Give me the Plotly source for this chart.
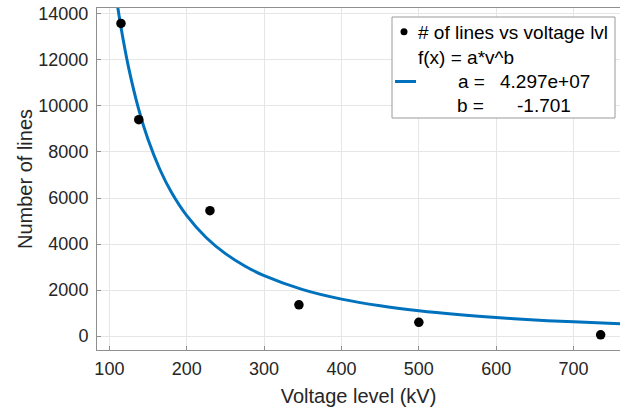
import plotly.graph_objects as go

# ---- data ----
voltage_kv = [115, 138, 230, 345, 500, 735]
num_lines = [13580, 9400, 5450, 1360, 600, 60]

# fitted curve f(x) = a*v^b
fit_x = [108, 115, 125, 138, 150, 165, 180, 200, 225, 250, 275, 300, 350,
         400, 450, 500, 550, 600, 650, 700, 760]
fit_y = [14924, 13412, 11638, 9836, 8535, 7259, 6260, 5233, 4286, 3583, 3047,
         2627, 2022, 1610, 1318, 1102, 937, 808, 705, 622, 541]

x_ticks = [100, 200, 300, 400, 500, 600, 700]
y_ticks = [0, 2000, 4000, 6000, 8000, 10000, 12000, 14000]
y_tick_text = ["0", "2000", "4000", "6000", "8000", "10000", "12000", "14000"]

legend_series = "# of lines vs voltage lvl"
legend_fit = "f(x) = a*v^b"
param_a_label, param_a_value = "a =", "4.297e+07"
param_b_label, param_b_value = "b =", "-1.701"

# ---- layout geometry (pixels) ----
W, H = 620, 409
ML, MR, MT, MB = 97, 0, 8, 59
PW, PH = W - ML - MR, H - MT - MB

def px(X):
    return (X - ML) / PW

def py(Y):
    return (H - MB - Y) / PH

FONT = "Liberation Sans, Arial, Helvetica, sans-serif"
BLUE = "#0072BD"
TXT = "#262626"

fig = go.Figure()
fig.add_trace(go.Scatter(x=fit_x, y=fit_y, mode="lines", line=dict(color=BLUE, width=3, shape="spline"),
                         showlegend=False, hoverinfo="skip"))
fig.add_trace(go.Scatter(x=voltage_kv, y=num_lines, mode="markers",
                         marker=dict(color="black", size=9.5), showlegend=False))

axis_common = dict(showgrid=True, gridcolor="#e6e6e6", gridwidth=1, zeroline=False,
                   showline=True, linecolor="#8f8f8f", linewidth=1,
                   ticks="inside", ticklen=4, tickcolor="#8f8f8f",
                   tickfont=dict(family=FONT, size=18, color=TXT))

fig.update_xaxes(range=[84, 760], tickvals=x_ticks, mirror=True,
                 title=dict(text="Voltage level (kV)", font=dict(family=FONT, size=20, color=TXT), standoff=11),
                 ticklabelstandoff=2, **axis_common)
fig.update_yaxes(range=[-600, 14250], tickvals=y_ticks, ticktext=y_tick_text, mirror=False,
                 title=dict(text="Number of lines", font=dict(family=FONT, size=20, color=TXT), standoff=0),
                 ticklabelstandoff=4, **axis_common)

# ---- legend box drawn by hand to match the original layout ----
shapes = [
    dict(type="rect", xref="paper", yref="paper", x0=px(392), x1=px(615), y0=py(118), y1=py(17),
         line=dict(color="#9a9a9a", width=1), fillcolor="white", layer="above"),
    dict(type="circle", xref="paper", yref="paper", x0=px(400.5), x1=px(407.5), y0=py(35.2), y1=py(28.2),
         line=dict(color="black", width=0), fillcolor="black", layer="above"),
    dict(type="line", xref="paper", yref="paper", x0=px(395), x1=px(416), y0=py(81.5), y1=py(81.5),
         line=dict(color=BLUE, width=3), layer="above"),
]
fig.update_layout(shapes=shapes)

lf = dict(family=FONT, size=19, color="black")
def ann(text, X, Y):
    return dict(text=text, xref="paper", yref="paper", x=px(X), y=py(Y), xanchor="left", yanchor="middle",
                showarrow=False, font=lf)

fig.update_layout(annotations=[
    ann(legend_series, 416, 32),
    ann(legend_fit, 416, 57.5),
    ann(param_a_label, 455.5, 81.5),
    ann(param_a_value, 497.5, 81.5),
    ann(param_b_label, 455, 105.5),
    ann(param_b_value, 515, 105.5),
])

fig.update_layout(width=W, height=H, margin=dict(l=ML, r=MR, t=MT, b=MB, autoexpand=False),
                  paper_bgcolor="white", plot_bgcolor="white", showlegend=False,
                  font=dict(family=FONT, color=TXT))

fig.write_html("out.html")
